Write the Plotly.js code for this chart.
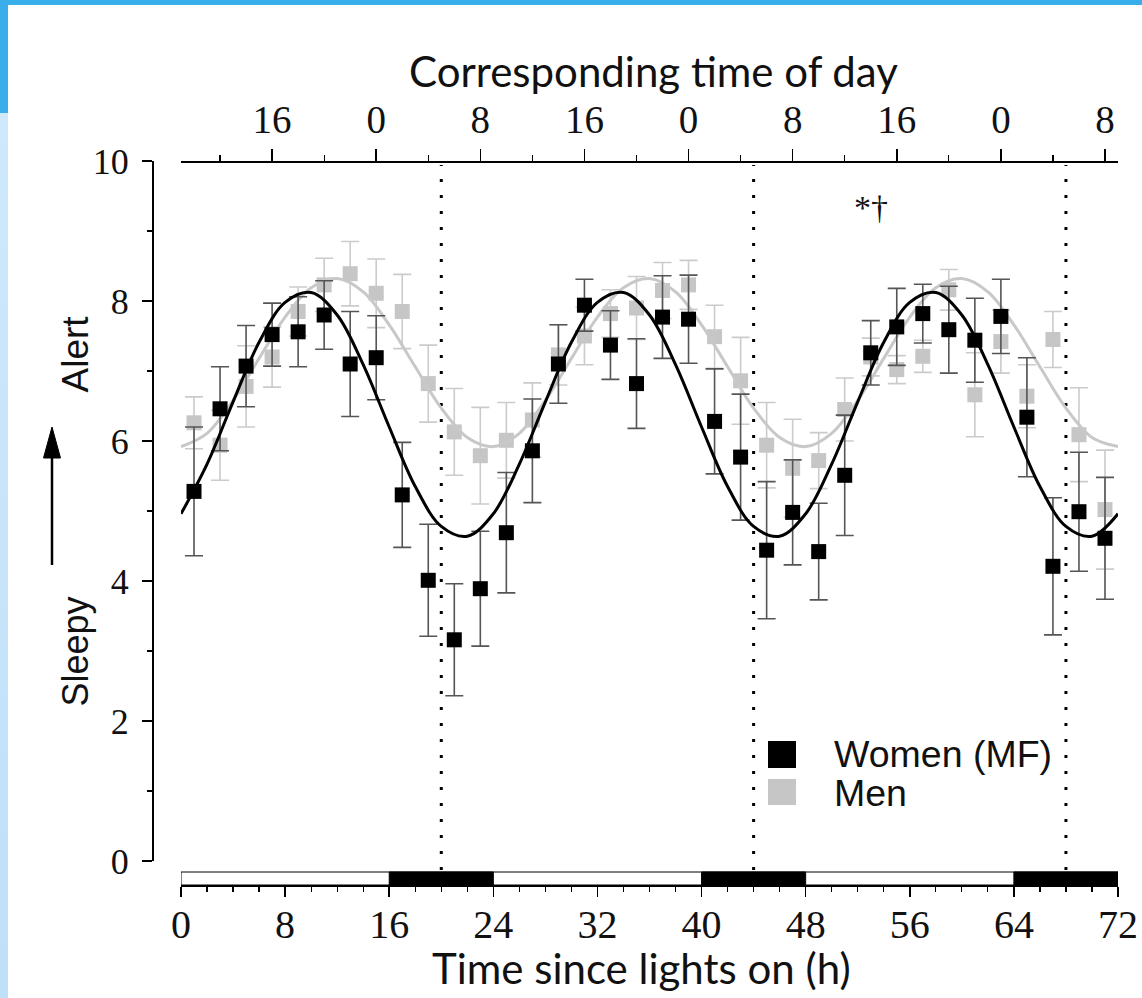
<!DOCTYPE html>
<html>
<head>
<meta charset="utf-8">
<script src="https://cdn.plot.ly/plotly-3.0.1.min.js"></script>
<style>
  html, body { margin: 0; padding: 0; background: #ffffff; }
  #chart { position: absolute; left: 0; top: 0; width: 1142px; height: 998px; }
  .band-top { position: absolute; left: 0; top: 0; width: 1142px; height: 5px; background: #38aeea; z-index: 5; }
  .band-left-a { position: absolute; left: 0; top: 0; width: 8px; height: 113px; background: #3aaeea; z-index: 5; }
  .band-left-b { position: absolute; left: 0; top: 113px; width: 8px; height: 885px; background: linear-gradient(#cfe8fb, #bfe0f9); z-index: 5; }
</style>
</head>
<body>
<div id="chart"></div>
<div class="band-top"></div>
<div class="band-left-a"></div>
<div class="band-left-b"></div>
<script>
// ---- data ----
const hours = [1,3,5,7,9,11,13,15,17,19,21,23,25,27,29,31,33,35,37,39,41,43,45,47,49,51,53,55,57,59,61,63,65,67,69,71];
const women = [5.28,6.46,7.07,7.52,7.56,7.80,7.10,7.19,5.23,4.01,3.16,3.89,4.69,5.86,7.10,7.94,7.37,6.82,7.77,7.74,6.28,5.77,4.44,4.98,4.42,5.51,7.26,7.63,7.82,7.59,7.44,7.78,6.34,4.21,4.99,4.61];
const womenSE = [0.92,0.60,0.58,0.45,0.50,0.49,0.75,0.60,0.75,0.80,0.80,0.82,0.86,0.74,0.56,0.37,0.49,0.64,0.59,0.63,0.75,0.90,0.98,0.75,0.69,0.86,0.46,0.55,0.42,0.62,0.60,0.53,0.85,0.98,0.85,0.87];
const men = [6.26,5.94,6.78,7.20,7.85,8.23,8.39,8.11,7.85,6.82,6.13,5.79,6.01,6.30,7.23,7.50,7.82,7.90,8.15,8.23,7.49,6.86,5.94,5.61,5.72,6.45,7.20,7.02,7.21,8.16,6.66,7.42,6.64,7.45,6.09,5.02];
const menSE = [0.37,0.50,0.58,0.43,0.35,0.38,0.46,0.49,0.53,0.55,0.62,0.69,0.54,0.53,0.43,0.41,0.34,0.45,0.40,0.35,0.45,0.62,0.61,0.70,0.40,0.45,0.27,0.20,0.23,0.29,0.60,0.45,0.45,0.40,0.67,0.85];
const fitHours = [0,2,4,6,8,10,12,14,16,18,20,22,24,26,28,30,32,34,36,38,40,42,44,46,48,50,52,54,56,58,60,62,64,66,68,70,72];
const womenFit = [4.96,5.67,6.56,7.41,7.98,8.12,7.80,7.09,6.20,5.35,4.78,4.64,4.96,5.67,6.56,7.41,7.98,8.12,7.80,7.09,6.20,5.35,4.78,4.64,4.96,5.67,6.56,7.41,7.98,8.12,7.80,7.09,6.20,5.35,4.78,4.64,4.96];
const menFit = [5.92,6.11,6.58,7.18,7.77,8.19,8.32,8.13,7.66,7.06,6.47,6.05,5.92,6.11,6.58,7.18,7.77,8.19,8.32,8.13,7.66,7.06,6.47,6.05,5.92,6.11,6.58,7.18,7.77,8.19,8.32,8.13,7.66,7.06,6.47,6.05,5.92];
const bottomTicks = [0,8,16,24,32,40,48,56,64,72];
const clockTickPos = [7,15,23,31,39,47,55,63,71];
const clockTickText = ['16','0','8','16','0','8','16','0','8'];
const clockMinorPos = [3,11,19,27,35,43,51,59,67];
const darkStarts = [16,40,64];
const darkEnds = [24,48,72];
const dottedLines = [20,44,68];
const seriesNames = ['Women (MF)','Men'];
const topTitle = 'Corresponding time of day';
const bottomTitle = 'Time since lights on (h)';

// ---- page geometry helpers (pixels -> paper) ----
const W = 1142, H = 998;
const px = v => v / W;
const py = v => 1 - v / H;

const BLACK = '#000000';
const GREY = '#c6c6c6';

const traces = [
  { x: hours, y: men, type: 'scatter', mode: 'markers', name: seriesNames[1],
    marker: { symbol: 'square', size: 15, color: GREY },
    error_y: { type: 'data', array: menSE, visible: true, color: '#cbcbcb', thickness: 1.6, width: 9 } },
  { x: fitHours, y: menFit, type: 'scatter', mode: 'lines', name: 'Men fit',
    line: { color: '#c8c8c8', width: 3, shape: 'spline', smoothing: 1 }, hoverinfo: 'skip' },
  { x: hours, y: women, type: 'scatter', mode: 'markers', name: seriesNames[0],
    marker: { symbol: 'square', size: 15, color: BLACK },
    error_y: { type: 'data', array: womenSE, visible: true, color: '#555555', thickness: 1.6, width: 9 } },
  { x: fitHours, y: womenFit, type: 'scatter', mode: 'lines', name: 'Women fit',
    line: { color: BLACK, width: 3, shape: 'spline', smoothing: 1 }, hoverinfo: 'skip' },
  { x: [0, 72], y: [null, null], type: 'scatter', mode: 'markers', xaxis: 'x2', yaxis: 'y',
    showlegend: false, hoverinfo: 'skip', marker: { opacity: 0 } }
];

const shapes = [];
// light/dark bar
shapes.push({ type: 'rect', xref: 'x', yref: 'paper', x0: 0, x1: 72, y0: py(885), y1: py(872),
  fillcolor: '#ffffff', line: { color: '#000', width: 1 } });
darkStarts.forEach((s, i) => shapes.push({ type: 'rect', xref: 'x', yref: 'paper', x0: s, x1: darkEnds[i],
  y0: py(885), y1: py(872), fillcolor: '#000000', line: { color: '#000', width: 1 } }));
// dotted lines
dottedLines.forEach(v => shapes.push({ type: 'line', xref: 'x', yref: 'paper', x0: v, x1: v,
  y0: py(870), y1: py(165), layer: 'below', line: { color: '#000', width: 3, dash: '3px,13px' } }));
// y-title arrow
shapes.push({ type: 'line', xref: 'paper', yref: 'paper', x0: px(52), x1: px(52), y0: py(565), y1: py(452),
  line: { color: '#000', width: 2.5 } });
shapes.push({ type: 'path', xref: 'paper', yref: 'paper',
  path: `M ${px(52)},${py(427)} L ${px(43.5)},${py(458)} L ${px(60.5)},${py(458)} Z`,
  fillcolor: '#000', line: { color: '#000', width: 1 } });
// legend swatches
shapes.push({ type: 'rect', xref: 'paper', yref: 'paper', x0: px(768), x1: px(796), y0: py(768), y1: py(741),
  fillcolor: BLACK, line: { width: 0 } });
shapes.push({ type: 'rect', xref: 'paper', yref: 'paper', x0: px(768), x1: px(796), y0: py(805), y1: py(779),
  fillcolor: GREY, line: { width: 0 } });

const titleFont = { family: 'Lato', size: 42, color: '#111' };

const annotations = [
  { text: topTitle, xref: 'paper', yref: 'paper', x: px(653), y: py(71), xanchor: 'center', yanchor: 'middle',
    showarrow: false, font: titleFont },
  { text: bottomTitle, xref: 'paper', yref: 'paper', x: px(641), y: py(968), xanchor: 'center', yanchor: 'middle',
    showarrow: false, font: titleFont },
  { text: 'Alert', xref: 'paper', yref: 'paper', x: px(52), y: py(354), textangle: -90, showarrow: false,
    font: { family: 'Liberation Sans', size: 37, color: '#111' } },
  { text: 'Sleepy', xref: 'paper', yref: 'paper', x: px(52), y: py(652), textangle: -90, showarrow: false,
    font: { family: 'Liberation Sans', size: 36, color: '#111' } },
  { text: '*\u2020', xref: 'x', yref: 'y', x: 53, y: 9.34, showarrow: false,
    font: { family: 'Liberation Serif', size: 34, color: '#111' } },
  { text: seriesNames[0], xref: 'paper', yref: 'paper', x: px(832), y: py(754), xanchor: 'left', yanchor: 'middle',
    showarrow: false, font: { family: 'Liberation Sans', size: 37.5, color: '#111' } },
  { text: seriesNames[1], xref: 'paper', yref: 'paper', x: px(832), y: py(793), xanchor: 'left', yanchor: 'middle',
    showarrow: false, font: { family: 'Liberation Sans', size: 37.5, color: '#111' } }
];

const tickFont = { family: 'Liberation Serif', size: 40, color: '#111' };

const layout = {
  width: W, height: H,
  margin: { l: 0, r: 0, t: 0, b: 0, pad: 0 },
  paper_bgcolor: '#ffffff', plot_bgcolor: '#ffffff',
  showlegend: false,
  xaxis: {
    domain: [px(181), px(1118)], range: [0, 72], anchor: 'free', position: py(885),
    showline: true, linecolor: '#000', linewidth: 1.5, mirror: false,
    ticks: 'outside', ticklen: 10, tickwidth: 1.5, tickcolor: '#000',
    tickmode: 'array', tickvals: bottomTicks, tickfont: tickFont, ticklabelstandoff: -7,
    minor: { dtick: 2, tick0: 0, ticks: 'outside', ticklen: 5, tickwidth: 1.2, tickcolor: '#000', showgrid: false },
    showgrid: false, zeroline: false
  },
  xaxis2: {
    overlaying: 'x', side: 'top', anchor: 'free', position: py(161),
    domain: [px(181), px(1118)], range: [0, 72],
    showline: true, linecolor: '#000', linewidth: 1.5,
    ticks: 'outside', ticklen: 12, tickwidth: 1.5, tickcolor: '#000',
    tickmode: 'array', tickvals: clockTickPos, ticktext: clockTickText,
    tickfont: { family: 'Liberation Serif', size: 39, color: '#111' }, ticklabelstandoff: 0,
    minor: { tickmode: 'array', tickvals: clockMinorPos, ticks: 'outside', ticklen: 6, tickwidth: 1.2, tickcolor: '#000', showgrid: false },
    showgrid: false, zeroline: false
  },
  yaxis: {
    domain: [py(861), py(161)], range: [0, 10], anchor: 'free', position: px(152),
    showline: true, linecolor: '#000', linewidth: 1.5,
    ticks: 'outside', ticklen: 10, tickwidth: 1.5, tickcolor: '#000',
    tickmode: 'linear', tick0: 0, dtick: 2, tickfont: { family: 'Liberation Serif', size: 36, color: '#111' },
    ticklabelstandoff: 6,
    minor: { dtick: 1, tick0: 0, ticks: 'outside', ticklen: 5, tickwidth: 1.2, tickcolor: '#000', showgrid: false },
    showgrid: false, zeroline: false
  },
  shapes: shapes,
  annotations: annotations
};

Plotly.newPlot('chart', traces, layout, { staticPlot: true, displayModeBar: false });
</script>
</body>
</html>
